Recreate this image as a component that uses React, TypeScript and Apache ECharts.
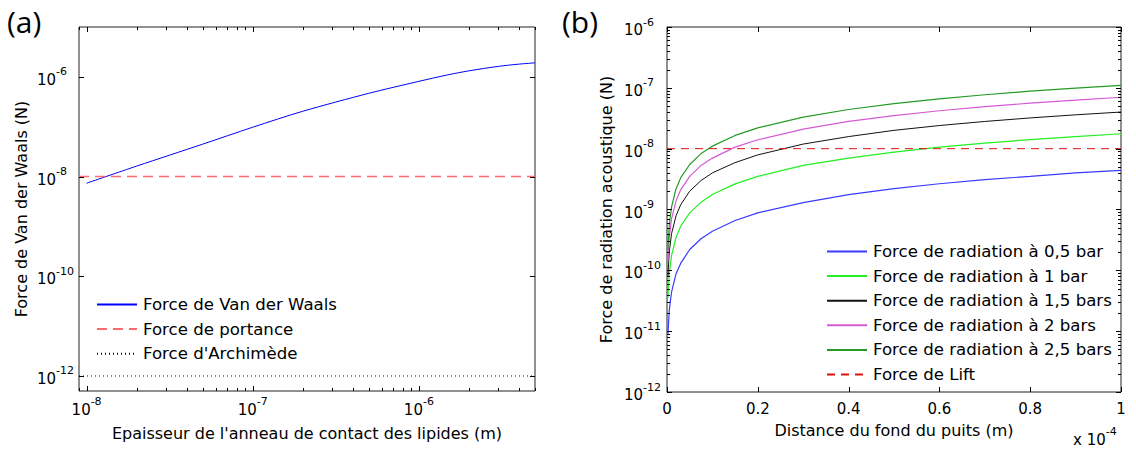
import React, { useEffect, useRef } from 'react';
import * as echarts from 'echarts';

const FONT = 'DejaVu Sans';

// ---------- Panel (a) ----------
const A_X_RANGE = [9e-9, 5e-6];
const A_Y_RANGE = [5e-13, 1e-5];
const A_THICKNESS = [1e-8, 2e-8, 5e-8, 1e-7, 2e-7, 5e-7, 1e-6, 1.5e-6, 2e-6, 3e-6, 4e-6, 5e-6];
const A_VDW = [7.35e-9, 1.62e-8, 4.47e-8, 9.77e-8, 2.04e-7, 4.68e-7, 8.13e-7, 1.1e-6, 1.32e-6, 1.62e-6, 1.8e-6, 1.91e-6];
const A_PORTANCE = 1e-8;
const A_ARCHIMEDE = 1e-12;
const A_X_MAJOR = [1e-8, 1e-7, 1e-6];
const A_Y_MAJOR = [1e-12, 1e-10, 1e-8, 1e-6];
const A_LEGEND = ['Force de Van der Waals', 'Force de portance', "Force d'Archimède"];

// ---------- Panel (b) ----------
const B_X_RANGE = [0, 1e-4];
const B_Y_RANGE = [1e-12, 1e-6];
const B_DIST = [2e-7, 5e-7, 1e-6, 2e-6, 3e-6, 5e-6, 7.5e-6, 1e-5, 1.5e-5, 2e-5, 3e-5, 4e-5, 5e-5, 6e-5, 7e-5, 8e-5, 9e-5, 1e-4];
const B_05 = [8.8e-12, 2.2e-11, 4.4e-11, 8.8e-11, 1.3e-10, 2.2e-10, 3.3e-10, 4.4e-10, 6.6e-10, 8.8e-10, 1.3e-9, 1.75e-9, 2.2e-9, 2.65e-9, 3.1e-9, 3.5e-9, 4.0e-9, 4.4e-9];
const B_10 = [3.5e-11, 8.8e-11, 1.76e-10, 3.5e-10, 5.3e-10, 8.8e-10, 1.32e-9, 1.76e-9, 2.64e-9, 3.5e-9, 5.3e-9, 7.0e-9, 8.8e-9, 1.06e-8, 1.23e-8, 1.41e-8, 1.58e-8, 1.76e-8];
const B_15 = [7.9e-11, 2.0e-10, 4.0e-10, 7.9e-10, 1.19e-9, 2.0e-9, 3.0e-9, 4.0e-9, 5.9e-9, 7.9e-9, 1.19e-8, 1.58e-8, 2.0e-8, 2.4e-8, 2.8e-8, 3.2e-8, 3.6e-8, 4.0e-8];
const B_20 = [1.4e-10, 3.5e-10, 7.0e-10, 1.4e-9, 2.1e-9, 3.5e-9, 5.3e-9, 7.0e-9, 1.06e-8, 1.4e-8, 2.1e-8, 2.8e-8, 3.5e-8, 4.2e-8, 4.9e-8, 5.6e-8, 6.3e-8, 7.0e-8];
const B_25 = [2.2e-10, 5.5e-10, 1.1e-9, 2.2e-9, 3.3e-9, 5.5e-9, 8.3e-9, 1.1e-8, 1.65e-8, 2.2e-8, 3.3e-8, 4.4e-8, 5.5e-8, 6.6e-8, 7.7e-8, 8.8e-8, 9.9e-8, 1.1e-7];
const B_LIFT = 1e-8;
const B_X_MAJOR = [0, 2e-5, 4e-5, 6e-5, 8e-5, 1e-4];
const B_Y_MAJOR = [1e-12, 1e-11, 1e-10, 1e-9, 1e-8, 1e-7, 1e-6];
const B_NAMES = [
  'Force de radiation à 0,5 bar',
  'Force de radiation à 1 bar',
  'Force de radiation à 1,5 bars',
  'Force de radiation à 2 bars',
  'Force de radiation à 2,5 bars',
  'Force de Lift',
];
const B_COLORS = ['#3a3aff', '#22f022', '#111111', '#d65ad6', '#259a25', '#e01010'];

const zip = (xs: number[], ys: number[]) => xs.map((x, i) => [x, ys[i]]);

function minorLog(lo: number, hi: number): number[] {
  const out: number[] = [];
  for (let e = Math.floor(Math.log10(lo)); e <= Math.ceil(Math.log10(hi)); e++) {
    for (let m = 2; m <= 9; m++) {
      const v = m * Math.pow(10, e);
      if (v > lo && v < hi) out.push(v);
    }
  }
  return out;
}

const rich = {
  b: { fontFamily: FONT, fontSize: 15, color: '#000', verticalAlign: 'bottom', padding: [6, 0, 0, 0] },
  e: { fontFamily: FONT, fontSize: 11, color: '#000', verticalAlign: 'top' },
};

function powLabel(step: number) {
  return (v: number) => {
    const e = Math.log10(v);
    const r = Math.round(e);
    if (Math.abs(e - r) > 1e-6) return '';
    if (r % step !== 0) return '';
    return `{b|10}{e|${r}}`;
  };
}

function tickSeries(idx: number, xr: number[], yr: number[], xMaj: number[], xMin: number[], yMaj: number[], yMin: number[]) {
  return {
    type: 'custom',
    xAxisIndex: idx,
    yAxisIndex: idx,
    silent: true,
    z: 10,
    data: [[xr[0], yr[0]]],
    renderItem: (_p: any, api: any) => {
      const bl = api.coord([xr[0], yr[0]]);
      const tr = api.coord([xr[1], yr[1]]);
      const children: any[] = [];
      const add = (x1: number, y1: number, x2: number, y2: number) =>
        children.push({ type: 'line', shape: { x1, y1, x2, y2 }, style: { stroke: '#000', lineWidth: 1 } });
      const xt = (vals: number[], len: number) =>
        vals.forEach((v) => {
          const x = Math.round(api.coord([v, yr[0]])[0]) + 0.5;
          add(x, bl[1], x, bl[1] - len);
          add(x, tr[1], x, tr[1] + len);
        });
      const yt = (vals: number[], len: number) =>
        vals.forEach((v) => {
          const y = Math.round(api.coord([xr[0], v])[1]) + 0.5;
          add(bl[0], y, bl[0] + len, y);
          add(tr[0], y, tr[0] - len, y);
        });
      xt(xMaj, 5);
      xt(xMin, 3);
      yt(yMaj, 5);
      yt(yMin, 3);
      return { type: 'group', children };
    },
  };
}

const lineSeries = (idx: number, name: string, data: number[][], color: string, width: number, type: any, smooth: any = false) => ({
  type: 'line',
  name,
  xAxisIndex: idx,
  yAxisIndex: idx,
  data,
  smooth,
  symbol: 'none',
  showSymbol: false,
  color,
  lineStyle: { color, width, type },
});

const legendCommon = {
  orient: 'vertical',
  itemWidth: 40,
  itemHeight: 14,
  padding: 0,
  selectedMode: false,
  itemStyle: { opacity: 0 },
  textStyle: { fontFamily: FONT, fontSize: 16.6, color: '#000', lineHeight: 14, padding: [0, 0, 0, 1] },
};

export default function App() {
  const ref = useRef<HTMLDivElement>(null);
  useEffect(() => {
    const chart = echarts.init(ref.current!, null, { renderer: 'svg' });
    const axisCommon = {
      axisLine: { show: false },
      axisTick: { show: false },
      splitLine: { show: false },
      nameTextStyle: { fontFamily: FONT, fontSize: 16, color: '#000' },
    };
    const option: any = {
      animation: false,
      backgroundColor: '#fff',
      grid: [
        { left: 79, top: 27, width: 456, height: 364, show: true, borderColor: '#222', borderWidth: 1, backgroundColor: 'transparent' },
        { left: 667, top: 27, width: 454, height: 365, show: true, borderColor: '#222', borderWidth: 1, backgroundColor: 'transparent' },
      ],
      xAxis: [
        {
          ...axisCommon,
          type: 'log',
          gridIndex: 0,
          min: A_X_RANGE[0],
          max: A_X_RANGE[1],
          name: "Epaisseur de l'anneau de contact des lipides (m)",
          nameLocation: 'middle',
          nameGap: 34,
          axisLabel: { formatter: powLabel(1), rich, margin: 5 },
        },
        {
          ...axisCommon,
          type: 'value',
          gridIndex: 1,
          min: B_X_RANGE[0],
          max: B_X_RANGE[1],
          interval: 2e-5,
          name: 'Distance du fond du puits (m)',
          nameLocation: 'middle',
          nameGap: 30,
          axisLine: { show: false, onZero: false },
          axisLabel: {
            margin: 9,
            fontFamily: FONT,
            fontSize: 15,
            color: '#000',
            formatter: (v: number) => String(Math.round(v * 1e5) / 10),
          },
        },
      ],
      yAxis: [
        {
          ...axisCommon,
          type: 'log',
          gridIndex: 0,
          min: A_Y_RANGE[0],
          max: A_Y_RANGE[1],
          name: 'Force de Van der Waals (N)',
          nameLocation: 'middle',
          nameGap: 50,
          axisLabel: { formatter: powLabel(2), rich, align: 'left', margin: 42 },
        },
        {
          ...axisCommon,
          type: 'log',
          gridIndex: 1,
          min: B_Y_RANGE[0],
          max: B_Y_RANGE[1],
          name: 'Force de radiation acoustique (N)',
          nameLocation: 'middle',
          nameGap: 53,
          axisLabel: { formatter: powLabel(1), rich, align: 'left', margin: 43 },
        },
      ],
      legend: [
        { ...legendCommon, data: A_LEGEND, left: 96, top: 296, itemGap: 7.6 },
        { ...legendCommon, data: B_NAMES, left: 826, top: 243, itemGap: 7.6 },
      ],
      graphic: [
        { type: 'text', left: 7, top: 6, style: { text: '(a)', font: '30px "Open Sans"', fill: '#000' } },
        { type: 'text', left: 562, top: 6, style: { text: '(b)', font: '30px "Open Sans"', fill: '#000' } },
        {
          type: 'text',
          left: 1073,
          top: 426,
          style: { text: '{b|x 10}{e|-4}', rich },
        },
      ],
      series: [
        lineSeries(0, A_LEGEND[0], zip(A_THICKNESS, A_VDW), '#0000ff', 1, 'solid', 0.3),
        lineSeries(0, A_LEGEND[1], [[A_X_RANGE[0], A_PORTANCE], [A_X_RANGE[1], A_PORTANCE]], '#ff6a6a', 1.5, [10, 6]),
        lineSeries(0, A_LEGEND[2], [[A_X_RANGE[0], A_ARCHIMEDE], [A_X_RANGE[1], A_ARCHIMEDE]], '#111', 1, [1, 3]),
        lineSeries(1, B_NAMES[0], zip(B_DIST, B_05), B_COLORS[0], 1.2, 'solid'),
        lineSeries(1, B_NAMES[1], zip(B_DIST, B_10), B_COLORS[1], 1.2, 'solid'),
        lineSeries(1, B_NAMES[2], zip(B_DIST, B_15), B_COLORS[2], 1, 'solid'),
        lineSeries(1, B_NAMES[3], zip(B_DIST, B_20), B_COLORS[3], 1.2, 'solid'),
        lineSeries(1, B_NAMES[4], zip(B_DIST, B_25), B_COLORS[4], 1.2, 'solid'),
        lineSeries(1, B_NAMES[5], [[B_X_RANGE[0], B_LIFT], [B_X_RANGE[1], B_LIFT]], B_COLORS[5], 1, [8, 6]),
        tickSeries(0, A_X_RANGE, A_Y_RANGE, A_X_MAJOR, minorLog(A_X_RANGE[0], A_X_RANGE[1]), A_Y_MAJOR, []),
        tickSeries(1, B_X_RANGE, B_Y_RANGE, B_X_MAJOR, [], B_Y_MAJOR, minorLog(B_Y_RANGE[0], B_Y_RANGE[1])),
      ],
    };
    chart.setOption(option);
    return () => chart.dispose();
  }, []);
  return (
    <div
      ref={ref}
      style={{ position: 'absolute', left: 0, top: 0, width: 1136, height: 449, background: '#fff' }}
    />
  );
}
